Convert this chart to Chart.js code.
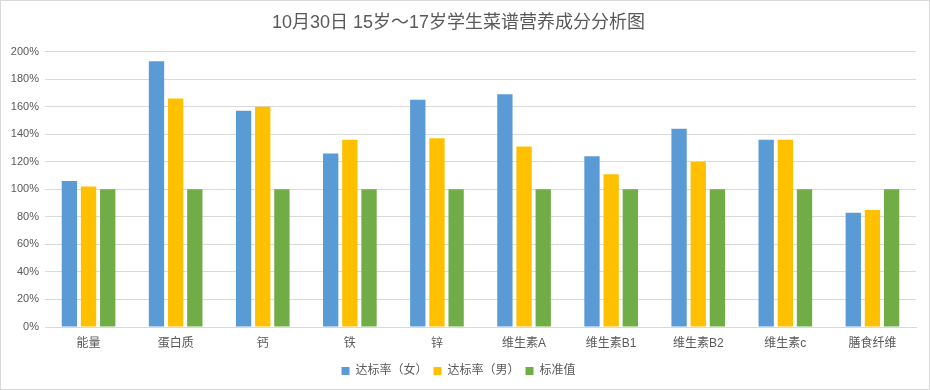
<!DOCTYPE html>
<html>
<head>
<meta charset="utf-8">
<script src="https://cdn.jsdelivr.net/npm/chart.js@4"></script>
<style>
  html, body { margin: 0; padding: 0; background: #fff; }
  #wrap { position: relative; width: 930px; height: 390px; box-sizing: border-box; border: 1px solid #d9d9d9; }
  canvas { display: block; }
</style>
</head>
<body>
<div id="wrap"><canvas id="chart" width="928" height="388"></canvas></div>
<script>
const CATEGORIES = ["能量", "蛋白质", "钙", "铁", "锌", "维生素A", "维生素B1", "维生素B2", "维生素c", "膳食纤维"];
const RATE_FEMALE = [106, 193, 157, 126, 165, 169, 124, 144, 136, 83];
const RATE_MALE = [102, 166, 160, 136, 137, 131, 111, 120, 136, 85];
const STANDARD = [100, 100, 100, 100, 100, 100, 100, 100, 100, 100];
const Y_TICKS = [0, 20, 40, 60, 80, 100, 120, 140, 160, 180, 200];

const FONT = "'Liberation Sans', 'Noto Sans CJK SC', sans-serif";
const TEXT = "#595959";

function barSet(label, data, color) {
  return {
    label: label,
    data: data,
    backgroundColor: color,
    borderWidth: 0,
    categoryPercentage: 0.66,
    barPercentage: 0.8
  };
}

new Chart(document.getElementById("chart"), {
  type: "bar",
  data: {
    labels: CATEGORIES,
    datasets: [
      barSet("达标率（女）", RATE_FEMALE, "#5b9bd5"),
      barSet("达标率（男）", RATE_MALE, "#ffc000"),
      barSet("标准值", STANDARD, "#70ad47")
    ]
  },
  options: {
    responsive: false,
    animation: false,
    layout: { padding: { left: 0, right: 13, top: 9, bottom: 2 } },
    plugins: {
      tooltip: { enabled: false },
      title: {
        display: true,
        text: "10月30日 15岁～17岁学生菜谱营养成分分析图",
        color: TEXT,
        font: { family: FONT, size: 18, weight: "normal" },
        padding: { top: 2, bottom: 18 }
      },
      legend: {
        position: "bottom",
        labels: {
          color: TEXT,
          font: { family: FONT, size: 12 },
          boxWidth: 8,
          boxHeight: 8,
          padding: 6
        }
      }
    },
    scales: {
      x: {
        grid: { display: false },
        border: { color: "#d9d9d9" },
        ticks: { color: TEXT, font: { family: FONT, size: 12 }, padding: 1 },
        afterFit: (s) => { s.height = 32; }
      },
      y: {
        min: 0,
        max: 200,
        afterBuildTicks: (s) => { s.ticks = Y_TICKS.map(v => ({ value: v })); },
        afterFit: (s) => { s.width = 44; },
        grid: { color: "#d9d9d9", drawTicks: false },
        border: { display: false },
        ticks: {
          color: TEXT,
          font: { family: FONT, size: 11 },
          padding: 6,
          callback: (v) => v + "%"
        }
      }
    }
  }
});
</script>
</body>
</html>
